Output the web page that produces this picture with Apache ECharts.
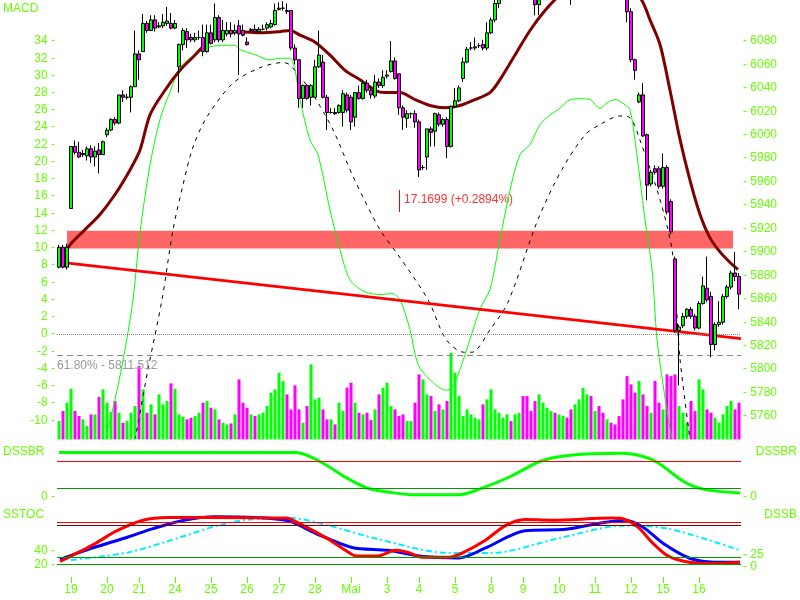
<!DOCTYPE html>
<html><head><meta charset="utf-8">
<script src="https://cdn.jsdelivr.net/npm/echarts@6/dist/echarts.min.js"></script>
<style>html,body{margin:0;padding:0;background:#fff}#c{width:800px;height:600px}</style>
</head><body><div id="c"></div>
<script>
// [open, close, low, high]
const ohlc = [
[5887,5904,5886,5906],[5904,5887,5886,5906],[5887,5904,5885,5907],[5937,5990,5937,5990],[5990,5985,5983,5995],
[5985,5981,5980,5994],[5983,5984,5981,5987],[5982,5988,5978,5990],[5988,5981,5976,5991],[5981,5986,5973,5990],
[5987,5983,5967,5993],[5983,5994,5983,5995],[6000,6004,5998,6006],[6004,6013,6003,6014],[6013,6010,6008,6015],
[6010,6034,6009,6034],[6034,6032,6028,6038],[6032,6032,6030,6035],[6032,6041,6019,6042],[6041,6069,6041,6089],
[6069,6064,6047,6072],[6071,6095,6071,6103],[6095,6089,6087,6097],[6089,6098,6089,6102],[6098,6091,6088,6102],
[6092,6093,6091,6096],[6093,6096,6091,6103],[6095,6097,6093,6109],[6095,6091,6090,6104],[6091,6095,6090,6098],
[6058,6077,6036,6078],[6077,6089,6072,6091],[6088,6081,6074,6091],[6083,6081,6079,6086],[6081,6083,6079,6087],
[6083,6083,6081,6089],[6083,6071,6067,6094],[6071,6087,6070,6094],[6087,6078,6077,6094],[6081,6100,6079,6112],
[6100,6081,6079,6102],[6081,6089,6079,6098],[6086,6089,6084,6096],[6089,6086,6083,6096],[6087,6089,6085,6094],
[6093,6086,6051,6098],[6089,6085,6084,6094],[6079,6077,6076,6083],[6089,6090,6089,6091],[6090,6088,6087,6094],
[6088,6090,6087,6092],[6090,6090,6089,6094],[6091,6094,6089,6096],[6092,6095,6091,6098],[6094,6106,6093,6112],
[6107,6108,6106,6113],[6108,6108,6106,6114],[6106,6105,6103,6112],[6106,6074,6072,6106],[6074,6064,6060,6077],
[6064,6031,6023,6064],[6031,6042,6023,6043],[6042,6031,6030,6043],[6032,6042,6025,6043],[6032,6058,6032,6064],
[6058,6068,6057,6089],[6062,6032,6031,6068],[6032,6019,6004,6034],[6019,6019,6018,6023],[6019,6018,6017,6023],
[6019,6025,6018,6026],[6019,6035,6007,6038],[6034,6021,6019,6036],[6032,6011,6004,6034],[6015,6036,6007,6036],
[6036,6031,6030,6042],[6031,6044,6030,6047],[6044,6038,6036,6047],[6038,6034,6031,6042],[6033,6045,6031,6051],
[6045,6042,6040,6048],[6042,6049,6040,6055],[6050,6051,6048,6055],[6054,6063,6053,6080],[6063,6048,6047,6066],
[6052,6023,6017,6052],[6023,6015,6004,6025],[6014,6018,6006,6021],[6018,6018,6014,6019],[6018,6011,6006,6021],
[6011,5970,5964,6013],[5972,5972,5970,5974],[5981,6005,5970,6005],[6005,6002,5990,6007],[6003,6018,5990,6019],
[6017,6009,6007,6019],[6009,6013,6007,6014],[6013,5990,5980,6015],[5990,6024,5989,6025],[6024,6029,6023,6040],
[6029,6040,6028,6042],[6048,6062,6045,6066],[6062,6073,6061,6075],[6074,6074,6072,6079],[6074,6075,6072,6083],
[6076,6076,6074,6078],[6077,6074,6072,6081],[6074,6087,6072,6096],[6087,6098,6086,6100],[6098,6112,6096,6117],
[6112,6120,6108,6124],[6120,6128,6117,6132],[6128,6135,6125,6140],[6135,6130,6126,6142],[6130,6138,6128,6145],
[6138,6145,6135,6150],[6145,6140,6136,6152],[6140,6128,6126,6143],[6128,6118,6115,6132],[6118,6111,6102,6122],
[6111,6118,6102,6122],[6118,6130,6115,6134],[6130,6142,6128,6146],[6142,6150,6138,6156],[6150,6146,6140,6158],
[6146,6155,6143,6162],[6155,6160,6150,6166],[6160,6150,6146,6164],[6150,6125,6111,6153],[6125,6135,6120,6140],
[6135,6150,6132,6156],[6150,6162,6146,6168],[6162,6170,6158,6176],[6170,6165,6160,6178],[6165,6172,6160,6180],
[6172,6168,6162,6178],[6168,6160,6155,6174],[6160,6166,6155,6172],[6166,6158,6152,6170],[6158,6150,6145,6162],
[6150,6138,6132,6155],[6138,6130,6125,6142],[6125,6105,6096,6130],[6105,6064,6062,6108],[6064,6055,6047,6065],
[6028,6034,6027,6036],[6034,5999,5998,6044],[6000,5957,5944,6001],[5958,5968,5956,5970],[5971,5968,5966,5974],
[5971,5956,5954,5973],[5956,5972,5954,5984],[5972,5934,5932,5974],[5943,5917,5915,5945],[5894,5833,5831,5896],
[5833,5836,5786,5838],[5837,5845,5835,5848],[5845,5851,5843,5852],[5851,5845,5843,5853],[5845,5835,5833,5847],
[5835,5856,5834,5858],[5856,5871,5855,5879],[5869,5859,5857,5896],[5862,5821,5810,5866],[5821,5838,5816,5840],
[5838,5840,5836,5858],[5840,5862,5838,5864],[5862,5870,5860,5872],[5870,5882,5868,5884],[5882,5879,5875,5900],
[5879,5864,5851,5882]
];
const volume = [55,85,110,152,85,70,60,40,75,75,127,150,110,82,115,80,50,55,80,100,220,150,80,105,75,135,105,115,168,152,
75,68,60,65,70,80,110,115,95,90,60,50,45,48,75,180,110,95,75,70,75,80,100,140,150,200,175,135,90,162,
90,50,100,225,120,125,90,60,60,45,110,85,155,170,110,80,75,80,58,90,135,155,170,100,90,70,75,55,55,110,
195,180,135,130,85,105,90,115,260,200,130,70,90,75,65,60,105,120,150,90,80,65,75,55,75,80,130,130,85,115,
135,110,95,85,80,75,70,65,90,105,120,155,135,130,85,100,80,60,50,45,70,120,190,165,140,175,135,100,80,175,
110,90,195,190,195,100,80,50,115,85,180,150,90,80,65,50,75,100,115,90,110];
const dayLabels = ['19','20','21','24','25','26','27','28','Mai','3','4','5','8','9','10','11','12','15','16'];
const dayIndex = [3,12,20,29,38,47,55,64,73,82,90,99,108,116,125,134,143,151,160];
const macdFast = [[11.5,-12.3],[14,-7.6],[16.5,-1.8],[18.5,4.0],[20.25,11.8],[22.75,19.6],[25.25,24.9],[27.75,28.1],[30.25,30.9],[34,32.4],[37.75,33.3],[41.5,33.5],[44,33.5],[45.25,33.0],[49,32.4],[52.75,31.8],[55.25,32.0],[57.75,32.0],[59,30.6],[60.25,27.2],[62.75,22.5],[64.75,20.8],[67.75,14.4],[70.25,9.8],[72.75,6.3],[76.5,4.9],[80.25,4.6],[83.25,4.7],[85.25,4.0],[87.75,0.5],[89.75,-3.5],[92.75,-5.3],[96.75,-6.5],[98.25,-6.2],[100.25,-4.1],[102.75,-0.6],[105.25,2.9],[107.75,5.2],[110.25,11.0],[112.75,16.7],[115.25,20.8],[117.75,22.0],[120.25,24.3],[122.75,25.4],[125.25,26.2],[127.75,27.2],[130.25,27.3],[132.75,27.2],[135.25,26.2],[137.25,26.9],[139,27.2],[141.5,26.6],[142.75,26.0],[144,22.5],[146.5,13.3],[148.25,7.5],[149.5,-0.6],[151,-5.8],[152.75,-11.0],[153.5,-12.8]];
const macdSlow = [[19,-12.3],[22.25,-4.1],[25.75,4.0],[28.5,12.1],[31,17.3],[33.5,21.7],[37,25.2],[43.5,29.1],[50.25,30.9],[56,31.5],[57.75,31.2],[62.75,28.3],[68.5,23.7],[73.5,18.3],[80.25,12.1],[84.75,9.2],[92.25,4.0],[96.75,-0.6],[101.25,-2.1],[103.25,-2.1],[107.75,0.5],[112.25,3.7],[119.75,13.3],[125.75,19.1],[131.5,23.1],[135.25,24.3],[140.25,25.3],[142.75,25.1],[145.25,22.5],[150.25,15.6],[153.25,9.8],[154.25,4.0],[155.25,-2.9],[157.75,-12.2]];
const movingAvg = [[0,5889],[2.75,5906],[6.5,5919],[10.25,5932],[14,5949],[17.75,5970],[20.25,5987],[22.75,6017],[26.5,6038],[30.25,6055],[34,6068],[37.75,6081],[41.5,6087],[45.25,6088],[50.25,6087],[55.25,6088],[57.75,6089],[60.25,6085],[64,6079],[67.75,6068],[71.5,6055],[75.25,6047],[79,6038],[81.5,6036],[85.25,6036],[89,6030],[92.75,6025],[96.5,6023],[100.25,6025],[104,6030],[107.75,6036],[110.25,6047],[114,6068],[117.75,6089],[121.5,6106],[125.25,6119],[130.25,6128],[135.25,6132],[140.25,6128],[145.25,6117],[147.75,6098],[150.25,6077],[152.75,6038],[155.25,5996],[157.75,5961],[160.25,5932],[162.75,5912],[165.25,5900],[167.75,5891],[169.75,5885]];
const trendLine = [[-0.5,5891.5],[170.5,5826]];
const dssbr = [[0,99],[59.25,99],[65,80],[72,42],[77,20],[82.25,11],[88.5,5],[100,5],[105.25,18],[112.75,45],[120.5,80],[128,93],[140.75,97],[146,90],[149.75,76],[156.25,34],[161.25,17],[170.25,9]];
const stocRed = [[0.25,24],[8.25,47],[14.5,68],[21,83],[27.25,87],[36.25,87],[56.75,86],[60.5,77],[67,57],[73.25,34],[74.5,32],[79.75,32],[84,40],[87.25,37],[91,30],[97.5,30],[100.75,36],[106.5,54],[111.5,75],[116.5,84],[123,83],[138.25,86],[141.5,84],[144.75,73],[148.5,50],[152.25,32],[157.5,23],[163.75,21],[170.25,23]];
const stocBlue = [[0.25,27],[8.25,43],[17.25,59],[23.5,71],[31.25,83],[38.75,88],[56.75,83],[64.25,64],[73.25,44],[82.25,40],[91,31],[100,29],[106.5,43],[116.5,68],[126.75,70],[134.5,78],[141.5,83],[146,73],[151,50],[157.5,29],[163.75,23],[170.25,23]];
const stocCyan = [[3,26],[17.25,37],[30,58],[40,76],[47.75,84],[58,86],[67,76],[79.75,56],[97.5,36],[107.75,36],[125.5,58],[140.75,75],[152.25,71],[170.25,40]];

const G = '#66ff00', FONT = 'Liberation Sans';
const cats = ohlc.map((_, i) => String(i));
const dateCats = ohlc.map((_, i) => { const k = dayIndex.indexOf(i); return k >= 0 ? dayLabels[k] : ''; });
const vx = (gi) => ({type:'value', gridIndex:gi, min:-0.5, max:ohlc.length-0.5, show:false});
const lbl = (fmt, extra) => Object.assign({color:G, fontFamily:FONT, fontSize:12, formatter:fmt}, extra||{});
const chart = echarts.init(document.getElementById('c'));
chart.setOption({
  animation:false, backgroundColor:'#fff',
  grid:[
    {left:57, width:684, top:0, height:439.4},
    {left:57, width:684, top:23.7, height:413.9},
    {left:57, width:684, top:452, height:45},
    {left:57, width:684, top:508.3, height:70},
    {left:57, width:684, top:555, height:12},
    {left:57, width:684, top:560, height:17}
  ],
  xAxis:[
    {type:'category', gridIndex:0, data:cats, show:false},
    vx(0), vx(1), vx(2), vx(3), vx(4),
    {type:'category', gridIndex:5, data:dateCats, boundaryGap:true,
     axisLine:{show:false}, splitLine:{show:false},
     axisTick:{show:true, length:6, inside:false, alignWithLabel:true, interval:(i)=>dateCats[i]!=='', lineStyle:{color:G}},
     axisLabel:{color:G, fontFamily:FONT, fontSize:12, interval:(i)=>dateCats[i]!=='', margin:7}}
  ],
  yAxis:[
    {type:'value', gridIndex:0, position:'right', min:5740, max:6115, interval:20, splitLine:{show:false}, axisLine:{show:false}, axisTick:{show:false},
     axisLabel:lbl(v => (v>=5760 && v<=6080) ? '- '+v : '', {margin:2})},
    {type:'value', gridIndex:0, min:0, max:1318, show:false},
    {type:'value', gridIndex:1, position:'left', min:-12, max:36, interval:2, splitLine:{show:false}, axisLine:{show:false}, axisTick:{show:false},
     axisLabel:lbl(v => (v>=-10 && v<=34) ? v+' -' : '', {margin:2})},
    {type:'value', gridIndex:2, position:'left', min:0, max:100, interval:100, splitLine:{show:false}, axisLine:{show:false}, axisTick:{show:false},
     axisLabel:lbl(v => v===0 ? '0 -' : '', {margin:2})},
    {type:'value', gridIndex:2, position:'right', min:0, max:100, interval:100, splitLine:{show:false}, axisLine:{show:false}, axisTick:{show:false},
     axisLabel:lbl(v => v===0 ? '- 0' : '', {margin:2})},
    {type:'value', gridIndex:3, position:'left', min:0, max:100, interval:20, splitLine:{show:false}, axisLine:{show:false}, axisTick:{show:false},
     axisLabel:lbl(v => (v===20||v===40) ? v+' -' : '', {margin:2})},
    {type:'value', gridIndex:4, position:'right', min:0, max:25, interval:25, splitLine:{show:false}, axisLine:{show:false}, axisTick:{show:false},
     axisLabel:lbl(v => '- '+v, {margin:2})},
    {type:'value', gridIndex:5, show:false}
  ],
  series:[
    {type:'bar', xAxisIndex:0, yAxisIndex:1, barWidth:3, z:1,
     data:volume.map((v,i)=>({value:v, itemStyle:{color: ohlc[i][1]>=ohlc[i][0] ? '#00ff00' : '#ff00ff'}}))},
    {type:'line', xAxisIndex:2, yAxisIndex:2, data:macdFast, smooth:0.3, showSymbol:false, lineStyle:{color:'#00ff00', width:1}, z:2,
     markLine:{silent:true, symbol:'none', label:{show:false}, data:[{yAxis:0}], lineStyle:{color:'#888', type:'dotted', width:1}}},
    {type:'line', xAxisIndex:2, yAxisIndex:2, data:macdSlow, smooth:0.3, showSymbol:false, lineStyle:{color:'#000', width:1, type:[4,5]}, z:2},
    {type:'line', xAxisIndex:1, yAxisIndex:0, data:trendLine, showSymbol:false, lineStyle:{color:'#ff0000', width:3}, z:3,
     markArea:{silent:true, itemStyle:{color:'#ff6666', opacity:1}, data:[[{coord:[2,5903]},{coord:[168.5,5918]}]]}},
    {type:'line', xAxisIndex:1, yAxisIndex:0, data:movingAvg, smooth:0.3, showSymbol:false, lineStyle:{color:'#800000', width:3}, z:4},
    {type:'candlestick', xAxisIndex:0, yAxisIndex:0, data:ohlc, barWidth:3, z:5,
     itemStyle:{color:'#00ff00', color0:'#ff00ff', borderColor:'#000', borderColor0:'#000', borderWidth:1},
     markLine:{silent:true, symbol:'none', data:[{yAxis:5811.512}], lineStyle:{color:'#888', type:[6,4], width:1},
       label:{show:true, position:'insideStartBottom', formatter:'61.80% - 5811.512', color:'#999', fontFamily:FONT, fontSize:12, distance:[0,4]}}},
    {type:'line', xAxisIndex:3, yAxisIndex:3, data:dssbr, smooth:0.3, showSymbol:false, lineStyle:{color:'#00ff00', width:3},
     markLine:{silent:true, symbol:'none', label:{show:false}, data:[
       {yAxis:80, lineStyle:{color:'#ff0000', width:1, type:'solid'}},
       {yAxis:20, lineStyle:{color:'#009900', width:1, type:'solid'}}]}},
    {type:'line', xAxisIndex:4, yAxisIndex:5, data:stocCyan, smooth:0.3, showSymbol:false, lineStyle:{color:'#00eeff', width:2, type:[6,3,2,3]},
     markLine:{silent:true, symbol:'none', label:{show:false}, data:[
       {yAxis:79.6, lineStyle:{color:'#ff0000', width:1, type:'solid'}},
       {yAxis:75.3, lineStyle:{color:'#800000', width:1, type:'solid'}},
       {yAxis:30.4, lineStyle:{color:'#009900', width:1, type:'solid'}},
       {yAxis:19.6, lineStyle:{color:'#009900', width:1, type:'solid'}}]}},
    {type:'line', xAxisIndex:4, yAxisIndex:5, data:stocBlue, smooth:0.3, showSymbol:false, lineStyle:{color:'#0000ff', width:3}},
    {type:'line', xAxisIndex:4, yAxisIndex:5, data:stocRed, smooth:0.3, showSymbol:false, lineStyle:{color:'#ff0000', width:3}}
  ],
  graphic:[
    {type:'text', left:3, top:3, style:{text:'MACD', fill:G, font:'12px '+FONT}},
    {type:'text', left:3, top:446, style:{text:'DSSBR', fill:G, font:'12px '+FONT}},
    {type:'text', right:3, top:446, style:{text:'DSSBR', fill:G, font:'12px '+FONT}},
    {type:'text', left:3, top:509, style:{text:'SSTOC', fill:G, font:'12px '+FONT}},
    {type:'text', right:3, top:509, style:{text:'DSSB', fill:G, font:'12px '+FONT}},
    {type:'line', shape:{x1:399.5, y1:190, x2:399.5, y2:212}, style:{stroke:'#ff0000', lineWidth:1}},
    {type:'text', left:404, top:194, style:{text:'17.1699 (+0.2894%)', fill:'#ff3333', font:'12px '+FONT}}
  ]
});
</script></body></html>
